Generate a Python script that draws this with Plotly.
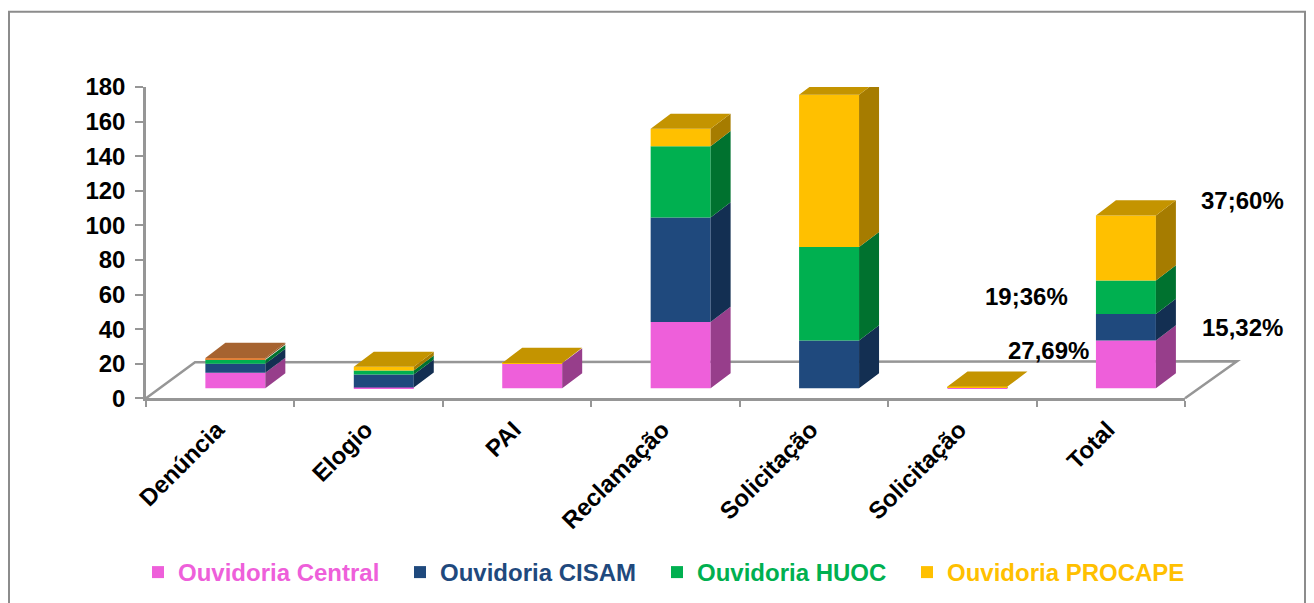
import plotly.graph_objects as go

categories = ["Denúncia", "Elogio", "PAI", "Reclamação", "Solicitação", "Solicitação ", "Total"]
series_names = ["Ouvidoria Central", "Ouvidoria CISAM", "Ouvidoria HUOC", "Ouvidoria PROCAPE", ""]
central = [9, 0.5, 14.5, 38.4, 0, 0.4, 27.69]
cisam = [5.2, 7.5, 0, 60.4, 27.7, 0, 15.32]
huoc = [2.2, 2.3, 0, 41.2, 54, 0.3, 19.36]
procape = [0.4, 2.1, 0.2, 10, 88, 0.3, 37.6]
outros = [0.8, 0, 0, 0, 0, 0, 0]
y_ticks = [0, 20, 40, 60, 80, 100, 120, 140, 160, 180]
point_labels = ["37;60%", "19;36%", "15,32%", "27,69%"]

series = [central, cisam, huoc, procape, outros]
front = ["#EE5FDA", "#1F497D", "#00B050", "#FFC000", "#E0813A"]
side = ["#973E8B", "#132F52", "#00722F", "#A67C00", "#8F5220"]
top = ["#C04CB0", "#18395F", "#008C40", "#C49400", "#A66330"]

W, H = 1314, 603
L, R, T, B = 146, 1185, 87, 397
AREA_BOTTOM = 401
LEGEND_TOP = 550
LEGEND_X = [138, 400, 657, 907]
FONT = dict(family="Liberation Sans", size=24, color="#000000", weight="bold")
ux = (R - L) / 7
uy = (B - T) / 180
floor_y = 5.8
bar_off = -0.10
bar_w = 0.404
dx = 20 / ux
dy = 15 / uy


def px(x):
    return (x - L) / (R - L)


def py(y):
    return (AREA_BOTTOM - y) / (AREA_BOTTOM - T)


legend_ids = ["legend", "legend2", "legend3", "legend4", "legend"]

fig = go.Figure()

bases = [floor_y] * 7
for s, vals in enumerate(series):
    fig.add_trace(go.Bar(
        x=list(range(7)), y=vals, base=list(bases), width=bar_w, offset=bar_off,
        marker=dict(color=front[s], line=dict(width=0)),
        name=f'<span style="color:{front[s]}">{series_names[s]}</span>',
        legend=legend_ids[s],
        showlegend=bool(series_names[s]), hoverinfo="skip"))
    xs, ys = [], []
    for i, v in enumerate(vals):
        if v <= 0:
            continue
        x1 = i + bar_off + bar_w
        b = bases[i]
        xs += [x1, x1 + dx, x1 + dx, x1, x1, None]
        ys += [b, b + dy, b + v + dy, b + v, b, None]
    fig.add_trace(go.Scatter(
        x=xs, y=ys, mode="lines", fill="toself", fillcolor=side[s],
        line=dict(width=0), showlegend=False, hoverinfo="skip"))
    bases = [b + v for b, v in zip(bases, vals)]

# top faces take a darker shade of each column's highest series
for s in range(len(series)):
    xs, ys = [], []
    for i in range(7):
        highest = max(k for k in range(len(series)) if series[k][i] > 0)
        if highest != s:
            continue
        x0 = i + bar_off
        x1 = x0 + bar_w
        t = bases[i]
        xs += [x0, x1, x1 + dx, x0 + dx, x0, None]
        ys += [t, t, t + dy, t + dy, t, None]
    if xs:
        fig.add_trace(go.Scatter(
            x=xs, y=ys, mode="lines", fill="toself", fillcolor=top[s],
            line=dict(width=0), showlegend=False, hoverinfo="skip"))

label_pos = [(1242, 200), (1026, 296), (1242, 326), (1048, 349)]
annotations = [
    dict(text=t, x=px(a), y=py(b), xref="paper", yref="paper", showarrow=False,
         xanchor="center", yanchor="middle", font=FONT)
    for t, (a, b) in zip(point_labels, label_pos)
]

floor_path = "M {} {} L {} {} L {} {} L {} {}".format(
    px(146), py(397), px(195), py(361), px(1237), py(360), px(1185), py(397))

legends = {
    lid: dict(orientation="h", x=lx / W, xref="container", xanchor="left",
              y=(H - LEGEND_TOP) / H, yref="container", yanchor="top",
              font=FONT, bgcolor="rgba(0,0,0,0)")
    for lid, lx in zip(legend_ids[:4], LEGEND_X)
}

fig.update_layout(
    width=W, height=H, autosize=False, barmode="overlay",
    margin=dict(l=L, r=W - R, t=T, b=161, pad=0),
    paper_bgcolor="white", plot_bgcolor="rgba(0,0,0,0)",
    font=FONT,
    annotations=annotations,
    shapes=[
        dict(type="rect", xref="paper", yref="paper",
             x0=px(9), x1=px(1305), y0=py(12), y1=py(640),
             line=dict(color="#8C8C8C", width=2), layer="below"),
        dict(type="path", xref="paper", yref="paper", path=floor_path,
             line=dict(color="#969696", width=2.5), layer="below"),
    ],
    xaxis=dict(
        range=[-0.5, 6.5], tickmode="array", tickvals=list(range(7)), ticktext=[c.strip() for c in categories],
        tickangle=-45, ticks="outside", ticklen=5, tickcolor="rgba(0,0,0,0)", ticklabelshift=-3,
        showgrid=False, zeroline=False, showline=True, linecolor="#969696", linewidth=2.5,
        tickfont=FONT,
        minor=dict(tickmode="array", tickvals=[i - 0.5 for i in range(8)], ticks="outside",
                   ticklen=6, tickcolor="#969696", tickwidth=2, showgrid=False),
    ),
    yaxis=dict(
        range=[0, 180], tickmode="array", tickvals=y_ticks, ticks="outside", ticklen=8,
        domain=[(AREA_BOTTOM - B) / (AREA_BOTTOM - T), 1],
        tickcolor="#969696", tickwidth=2, showgrid=False, zeroline=False,
        showline=True, linecolor="#969696", linewidth=2.5, ticklabelstandoff=5,
        tickfont=FONT,
    ),
    **legends,
)

fig.write_html("out.html", config={"displayModeBar": False},
               post_script="document.body.style.margin='0';document.body.style.overflow='hidden';")
